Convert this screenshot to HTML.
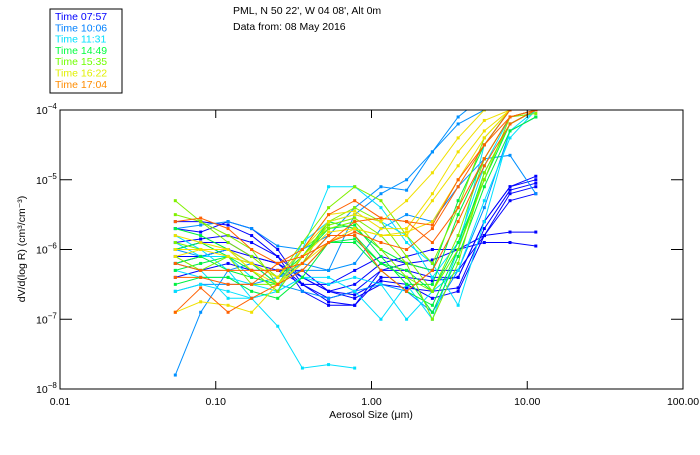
<!DOCTYPE html>
<html><head><meta charset="utf-8"><style>
body{margin:0;background:#fff;width:700px;height:450px;overflow:hidden}
text{font-family:"Liberation Sans",sans-serif}
</style></head><body>
<svg id="chart" width="700" height="450" xmlns="http://www.w3.org/2000/svg">
<rect width="700" height="450" fill="#fff"/>
<g id="legend">
<rect x="50" y="9" width="72" height="84" fill="#fff" stroke="#000" stroke-width="1"/>
</g>
<text x="233" y="14" font-size="10.5">PML, N 50 22', W 04 08', Alt 0m</text>
<text x="233" y="30" font-size="10.5">Data from: 08 May 2016</text>
<defs><clipPath id="pc"><rect x="60" y="110" width="623" height="279"/></clipPath></defs>
<g id="series" clip-path="url(#pc)"></g>
<g id="axes"></g>
<text x="371" y="418" font-size="10.5" text-anchor="middle">Aerosol Size (μm)</text>
<text transform="translate(25,249) rotate(-90)" font-size="10.5" text-anchor="middle">dV/d(log R)  (cm³/cm⁻³)</text>
</svg>
<script>
const sizes=[0.055,0.08,0.12,0.17,0.25,0.36,0.53,0.78,1.15,1.68,2.46,3.6,5.3,7.75,11.35];
const legendLabels=["Time 07:57","Time 10:06","Time 11:31","Time 14:49","Time 15:35","Time 16:22","Time 17:04"];
const groupColors=["#0000ff","#0080ff","#00e0ff","#00ff40","#70ff00","#e0f000","#ff8c00"];
const lineColors=["#0000ff","#0090ff","#00e0ff","#00f040","#80f000","#f0e000","#ff6000"];
const xTicks=[0.01,0.1,1,10,100];
const xTickLabels=["0.01","0.10","1.00","10.00","100.00"];
const yTicks=[-4,-5,-6,-7,-8];
const g0=[[-5.6,-5.6,-5.65,-5.8,-6.1,-6.6,-6.8,-6.8,-6.3,-6.3,-6.4,-6.4,-5.6,-5.1,-4.95],
[-5.7,-5.75,-5.6,-5.7,-6.0,-6.5,-6.75,-6.8,-6.4,-6.4,-6.45,-6.4,-5.6,-5.1,-5.0],
[-5.9,-5.85,-5.8,-5.9,-6.1,-6.4,-6.6,-6.7,-6.5,-6.55,-6.6,-6.55,-5.7,-5.15,-5.05],
[-6.0,-5.9,-5.9,-6.1,-6.2,-6.5,-6.7,-6.6,-6.3,-6.2,-6.3,-6.3,-5.8,-5.3,-5.2],
[-6.2,-6.1,-6.0,-6.1,-6.2,-6.4,-6.6,-6.65,-6.45,-6.5,-6.7,-6.6,-5.8,-5.2,-5.1],
[-6.4,-6.3,-6.2,-6.3,-6.3,-6.3,-6.6,-6.5,-6.2,-6.1,-6.0,-6.0,-5.8,-5.75,-5.75],
[-6.1,-6.1,-6.0,-6.2,-6.3,-6.5,-6.5,-6.3,-6.1,-6.2,-6.15,-6.0,-5.9,-5.9,-5.95]];
const g1=[[-7.8,-6.9,-6.3,-6.2,-6.4,-6.2,-6.3,-5.5,-5.2,-5.0,-4.6,-4.1,-3.8,null,null],
[-5.7,-5.65,-5.6,-5.7,-5.95,-6.0,-5.8,-5.4,-5.1,-5.15,-4.6,-4.2,-4.0,-4.0,-4.0],
[-6.0,-6.1,-6.0,-6.2,-6.5,-6.6,-6.7,-6.6,-6.5,-6.6,-6.9,-6.3,-5.4,-4.3,-4.1],
[-6.6,-6.5,-6.5,-6.5,-6.4,-6.3,-6.3,-6.2,-5.7,-5.5,-5.6,-5.1,-4.7,-4.65,-5.2]];
const g2=[[-6.6,-6.5,-6.6,-6.7,-7.1,-7.7,-7.65,-7.7,null,null,null,null,null,null,null],
[-5.8,-6.0,-6.3,-6.7,-6.6,-6.4,-6.5,-6.4,-6.5,-7.0,-6.6,-6.3,-5.3,-4.4,-4.0],
[-6.2,-6.3,-6.7,-6.7,-6.6,-6.4,-6.4,-6.6,-7.0,-6.5,-7.0,-6.0,-4.5,-4.0,null],
[-5.9,-6.1,-6.1,-6.4,-6.5,-6.0,-5.1,-5.1,-5.4,-5.9,-6.2,-6.8,-5.6,-4.3,-4.0],
[-6.3,-6.4,-6.4,-6.5,-6.6,-5.9,-5.6,-5.5,-5.6,-5.8,-6.4,-5.9,-4.8,-4.1,-4.0]];
const g3=[[-6.3,-6.2,-6.1,-6.3,-6.6,-6.1,-5.7,-5.65,-6.1,-6.5,-6.5,-5.5,-4.7,-4.1,-4.0],
[-6.0,-5.9,-6.1,-6.2,-6.5,-6.2,-5.8,-5.8,-6.2,-6.3,-6.6,-5.9,-5.0,-4.2,-4.0],
[-6.5,-6.4,-6.4,-6.6,-6.7,-6.4,-5.9,-5.9,-6.3,-6.6,-6.8,-6.0,-4.9,-4.2,-4.0],
[-5.7,-5.8,-6.0,-6.2,-6.4,-6.1,-5.6,-5.7,-6.0,-6.2,-6.3,-5.3,-4.5,-4.0,-4.0],
[-6.2,-6.1,-6.3,-6.4,-6.5,-6.3,-5.9,-5.85,-6.2,-6.4,-6.9,-6.1,-5.1,-4.3,-4.1]];
const g4=[[-5.3,-5.6,-5.9,-6.1,-6.4,-5.9,-5.4,-5.1,-5.3,-5.8,-6.2,-5.4,-4.4,-4.0,-4.0],
[-5.5,-5.6,-5.8,-6.0,-6.5,-6.2,-5.6,-5.4,-5.6,-6.1,-6.6,-6.0,-5.0,-4.1,-4.0],
[-5.9,-6.0,-6.0,-6.3,-6.6,-6.1,-5.65,-5.55,-5.8,-6.2,-7.0,-6.2,-4.9,-4.2,-4.0],
[-6.1,-6.3,-6.1,-6.5,-6.5,-6.0,-5.7,-5.6,-6.0,-6.4,-6.6,-5.8,-4.7,-4.1,-4.05]];
const g5=[[-6.9,-6.75,-6.8,-6.9,-6.5,-6.2,-5.9,-5.7,-5.8,-5.8,-5.3,-4.8,-4.3,-4.0,-4.0],
[-6.1,-6.0,-6.1,-6.2,-6.4,-6.0,-5.6,-5.5,-5.6,-5.3,-4.9,-4.4,-4.0,-4.0,-4.0],
[-6.0,-6.0,-6.0,-6.2,-6.4,-6.0,-5.5,-5.45,-5.7,-5.7,-5.2,-4.6,-4.15,-4.0,-4.0],
[-5.8,-5.9,-6.0,-6.3,-6.5,-6.1,-5.75,-5.7,-5.8,-5.75,-5.6,-5.0,-4.4,-4.0,-4.0]];
const g6=[[-6.9,-6.55,-6.9,-6.7,-6.5,-6.3,-5.9,-5.6,-5.55,-5.6,-5.65,-5.0,-4.5,-4.0,-4.0],
[-5.6,-5.55,-5.7,-6.0,-6.2,-6.0,-5.5,-5.3,-5.55,-5.6,-5.9,-5.4,-4.7,-4.1,-4.0],
[-6.2,-6.3,-6.3,-6.3,-6.3,-6.2,-5.8,-5.8,-6.3,-6.6,-6.3,-5.6,-4.8,-4.2,-4.0],
[-6.4,-6.4,-6.5,-6.5,-6.2,-6.1,-5.9,-5.75,-5.9,-6.0,-5.7,-5.1,-4.5,-4.1,-4.0]];
const groups=[g0,g1,g2,g3,g4,g5,g6];

const X0=60,X1=683,Y0=110,Y1=389;
function xs(v){return X0+(Math.log10(v)+2)/4*(X1-X0);}
function ys(l){return Y0+(-4-l)/4*(Y1-Y0);}
const NS="http://www.w3.org/2000/svg";
function mk(t,a,p){const e=document.createElementNS(NS,t);for(const k in a)e.setAttribute(k,a[k]);p.appendChild(e);return e;}

const leg=document.getElementById('legend');
legendLabels.forEach((lab,i)=>{
  const t=mk('text',{x:55,y:20+i*11.3,'font-size':10.5,fill:groupColors[i]},leg);
  t.textContent=lab;
  
  
});

const sg=document.getElementById('series');
groups.forEach((grp,gi)=>{
  grp.forEach((ser,si)=>{
    const g=mk('g',{},sg);
    
    
    let d='',pen=false;
    ser.forEach((v,k)=>{
      if(v===null){pen=false;return;}
      d+=(pen?'L':'M')+xs(sizes[k]).toFixed(1)+' '+ys(v).toFixed(1);pen=true;
    });
    mk('path',{d:d,fill:'none',stroke:lineColors[gi],'stroke-width':1},g);
    ser.forEach((v,k)=>{
      if(v===null)return;
      const r=mk('rect',{x:xs(sizes[k])-1.5,y:ys(v)-1.5,width:3,height:3,fill:lineColors[gi]},g);
      
      
    });
  });
});

const ax=document.getElementById('axes');
const frame=mk('rect',{x:X0,y:Y0,width:X1-X0,height:Y1-Y0,fill:'none',stroke:'#000','stroke-width':1},ax);


xTicks.forEach((v,i)=>{
  const x=xs(v);
  mk('line',{x1:x,y1:Y1,x2:x,y2:Y1-8,stroke:'#000'},ax);
  mk('line',{x1:x,y1:Y0,x2:x,y2:Y0+8,stroke:'#000'},ax);
  const t=mk('text',{x:x,y:Y1+16,'font-size':10.5,'text-anchor':'middle'},ax);
  t.textContent=xTickLabels[i];
  
  
});
yTicks.forEach(l=>{
  const y=ys(l);
  mk('line',{x1:X0,y1:y,x2:X0+12,y2:y,stroke:'#000'},ax);
  mk('line',{x1:X1,y1:y,x2:X1-12,y2:y,stroke:'#000'},ax);
  const t=mk('text',{x:36,y:y+4,'font-size':10.5},ax);
  t.textContent='10';
  const s=mk('tspan',{dy:-5,'font-size':8},t);
  s.textContent='−'+(-l);
  
  
});
</script>
</body></html>
